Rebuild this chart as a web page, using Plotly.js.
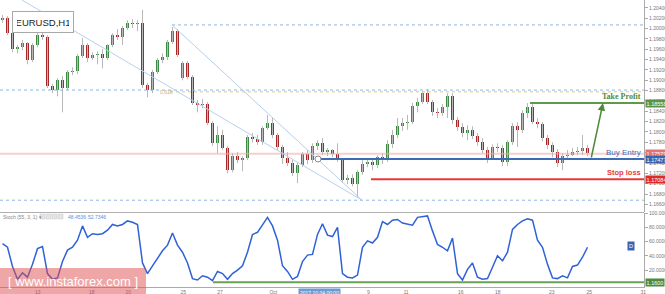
<!DOCTYPE html>
<html>
<head>
<meta charset="utf-8">
<script src="https://cdn.plot.ly/plotly-3.0.1.min.js"></script>
<style>
html,body{margin:0;padding:0;background:#fff;}
#chart{width:665px;height:294px;}
</style>
</head>
<body>
<div id="chart"></div>
<script>
// ---- data (EURUSD H1) ----
const candleOpen = [
1.2016,1.2020,1.1991,1.1960,1.1964,1.1972,1.1939,1.1968,1.1987,1.1983,
1.1889,1.1881,1.1900,1.1885,1.1916,1.1918,1.1947,1.1968,1.1943,1.1949,
1.1951,1.1943,1.1968,1.1987,1.1983,1.2001,1.2011,1.2009,1.2011,1.1891,
1.1881,1.1916,1.1939,1.1945,1.1974,1.1995,1.1904,1.1933,1.1906,1.1856,
1.1852,1.1854,1.1817,1.1778,1.1794,1.1769,1.1726,1.1753,1.1746,1.1749,
1.1790,1.1786,1.1780,1.1807,1.1817,1.1794,1.1771,1.1749,1.1740,1.1720,
1.1736,1.1757,1.1746,1.1773,1.1778,1.1761,1.1765,1.1757,1.1746,1.1707,
1.1711,1.1699,1.1722,1.1738,1.1742,1.1736,1.1751,1.1746,1.1776,1.1794,
1.1811,1.1817,1.1819,1.1850,1.1858,1.1875,1.1858,1.1838,1.1836,1.1848,
1.1869,1.1823,1.1809,1.1798,1.1804,1.1792,1.1780,1.1765,1.1749,1.1771,
1.1769,1.1742,1.1780,1.1811,1.1804,1.1836,1.1848,1.1819,1.1815,1.1788,
1.1775,1.1761,1.1740,1.1753,1.1755,1.1761,1.1763,1.1769];
const candleHigh = [
1.2026,1.2024,1.1995,1.1968,1.1978,1.1974,1.1972,1.1993,1.1995,1.1987,
1.1893,1.1904,1.1908,1.1920,1.1925,1.1951,1.1982,1.1972,1.1954,1.1956,
1.1960,1.1970,1.1991,1.1999,1.2005,1.2016,1.2018,1.2016,1.2036,1.1895,
1.1920,1.1943,1.1952,1.1978,1.2003,1.1999,1.1937,1.1937,1.1910,1.1862,
1.1864,1.1858,1.1821,1.1811,1.1804,1.1773,1.1759,1.1761,1.1753,1.1794,
1.1798,1.1794,1.1811,1.1833,1.1827,1.1798,1.1775,1.1761,1.1746,1.1740,
1.1761,1.1765,1.1778,1.1784,1.1788,1.1769,1.1767,1.1778,1.1749,1.1717,
1.1718,1.1726,1.1746,1.1749,1.1749,1.1755,1.1759,1.1784,1.1804,1.1827,
1.1827,1.1833,1.1856,1.1866,1.1879,1.1883,1.1862,1.1846,1.1854,1.1875,
1.1875,1.1829,1.1817,1.1813,1.1811,1.1798,1.1788,1.1771,1.1776,1.1778,
1.1775,1.1784,1.1817,1.1819,1.1842,1.1856,1.1856,1.1827,1.1819,1.1794,
1.1780,1.1767,1.1759,1.1765,1.1769,1.1771,1.1794,1.1775];
const candleLow = [
1.2011,1.1987,1.1954,1.1952,1.1958,1.1931,1.1935,1.1964,1.1978,1.1885,
1.1875,1.1869,1.1838,1.1881,1.1910,1.1912,1.1943,1.1935,1.1939,1.1931,
1.1923,1.1939,1.1964,1.1978,1.1968,1.1997,1.2001,1.1995,1.1885,1.1867,
1.1875,1.1912,1.1933,1.1939,1.1970,1.1945,1.1900,1.1902,1.1852,1.1838,
1.1846,1.1813,1.1773,1.1759,1.1765,1.1720,1.1722,1.1740,1.1724,1.1746,
1.1780,1.1775,1.1775,1.1804,1.1788,1.1765,1.1738,1.1734,1.1715,1.1701,
1.1732,1.1738,1.1740,1.1765,1.1755,1.1753,1.1751,1.1742,1.1701,1.1699,
1.1695,1.1674,1.1717,1.1732,1.1726,1.1730,1.1738,1.1742,1.1769,1.1788,
1.1802,1.1804,1.1815,1.1838,1.1854,1.1854,1.1831,1.1827,1.1831,1.1827,
1.1815,1.1802,1.1790,1.1784,1.1786,1.1773,1.1759,1.1740,1.1746,1.1761,
1.1734,1.1734,1.1775,1.1771,1.1798,1.1827,1.1815,1.1807,1.1782,1.1767,
1.1751,1.1732,1.1726,1.1746,1.1753,1.1755,1.1755,1.1753];
const candleClose = [
1.2020,1.1991,1.1960,1.1964,1.1972,1.1939,1.1968,1.1987,1.1983,1.1889,
1.1881,1.1900,1.1885,1.1916,1.1918,1.1947,1.1968,1.1943,1.1949,1.1951,
1.1943,1.1968,1.1987,1.1983,1.2001,1.2011,1.2009,1.2011,1.1891,1.1881,
1.1916,1.1939,1.1945,1.1974,1.1995,1.1949,1.1933,1.1906,1.1856,1.1852,
1.1854,1.1817,1.1778,1.1794,1.1769,1.1726,1.1753,1.1746,1.1749,1.1790,
1.1786,1.1780,1.1807,1.1817,1.1794,1.1771,1.1749,1.1740,1.1720,1.1736,
1.1757,1.1746,1.1773,1.1778,1.1761,1.1765,1.1757,1.1746,1.1707,1.1711,
1.1699,1.1722,1.1738,1.1742,1.1736,1.1751,1.1746,1.1776,1.1794,1.1811,
1.1817,1.1819,1.1850,1.1858,1.1875,1.1858,1.1838,1.1836,1.1848,1.1869,
1.1823,1.1809,1.1798,1.1804,1.1792,1.1780,1.1765,1.1749,1.1771,1.1769,
1.1742,1.1780,1.1811,1.1804,1.1836,1.1848,1.1819,1.1815,1.1788,1.1775,
1.1761,1.1740,1.1753,1.1755,1.1761,1.1763,1.1769,1.1759];
const stochValues = [
57,52,25,7,16,10,28,50,53,15,
7,9,32,48,52,62,82,66,71,70,
71,76,84,82,84,89,87,84,30,15,
26,37,47,55,72,55,45,30,8,6,
12,10,5,18,15,7,15,20,26,45,
70,73,84,94,82,62,26,18,7,11,
32,41,42,70,85,69,67,80,15,10,
9,13,52,61,58,66,88,84,90,91,
86,85,83,94,95,96,75,56,52,47,
65,15,6,21,30,10,7,8,24,40,
33,45,77,84,89,92,90,62,52,28,
9,8,12,9,25,27,38,52];

const dateTickPos  = [-0.16, 7.04, 17.84, 25.17, 36.17, 43.5, 54.17, 73.17, 80.7, 91.64, 99.04, 109.84, 117.36, 128.16];
const dateTickText = ['11','13','18','20','25','27','Oct','9','11','16','18','23','25','31'];
const priceTicks = [1.166,1.168,1.170,1.172,1.174,1.176,1.178,1.180,1.182,1.184,1.186,1.188,1.190,1.192,1.194,1.196,1.198,1.200,1.202,1.204];
const stochTicks = [20,40,60,80,100];

const takeProfit = 1.18558;
const buyEntry   = 1.17477;
const stopLoss   = 1.17084;
const lastPrice  = 1.17579;
const fibZero    = 1.1668;
const fibOne     = 1.2007;
const fib618     = 1.18776;
const level1188  = 1.1881;
const stochLevel = 2.8;
const stochK = '48.4536', stochD = '52.7346';

// ---- build ----
const idx = candleClose.map((_, i) => i);
const bodyBase = candleClose.map((c, i) => Math.min(c, candleOpen[i]));
const bodyH = candleClose.map((c, i) => Math.max(Math.abs(c - candleOpen[i]), 0.00008));
const bodyCol = candleClose.map((c, i) => c >= candleOpen[i] ? '#3f8a45' : '#a42a2a');

const traces = [
  { type:'ohlc', x:idx, open:candleOpen, high:candleHigh, low:candleLow, close:candleClose,
    tickwidth:0, increasing:{line:{color:'#b8b8b8', width:1}}, decreasing:{line:{color:'#b8b8b8', width:1}},
    xaxis:'x', yaxis:'y', hoverinfo:'skip', showlegend:false },
  { type:'bar', x:idx, base:bodyBase, y:bodyH, width:0.45, marker:{color:bodyCol, line:{width:0}},
    xaxis:'x', yaxis:'y', hoverinfo:'skip', showlegend:false },
  { type:'scatter', mode:'lines', x:idx, y:stochValues, line:{color:'#2f62d6', width:1.5},
    xaxis:'x', yaxis:'y2', hoverinfo:'skip', showlegend:false }
];

const W = 644, H = 287;
const px = v => v / W;
const py = v => 1 - v / H;

const shapes = [
  {type:'line', xref:'paper', x0:0, x1:1, yref:'y', y0:level1188, y1:level1188, line:{color:'#8fb6e6', width:1, dash:'dot'}},
  {type:'line', xref:'x', x0:33.9, x1:128.3, yref:'y', y0:fibOne, y1:fibOne, line:{color:'#8fb6e6', width:1, dash:'dot'}},
  {type:'line', xref:'paper', x0:0, x1:1, yref:'y', y0:fibZero, y1:fibZero, line:{color:'#8fb6e6', width:1, dash:'dot'}},
  {type:'line', xref:'x', x0:33.5, x1:128.3, yref:'y', y0:fib618, y1:fib618, line:{color:'#e6c870', width:1, dash:'dot'}},
  {type:'line', xref:'paper', x0:0, x1:1, yref:'y', y0:lastPrice, y1:lastPrice, line:{color:'rgba(238,170,170,0.55)', width:2}},
  {type:'line', xref:'x', yref:'y', x0:3.9, y0:1.2055, x1:71.9, y1:fibZero, line:{color:'#b7d0ec', width:1}},
  {type:'line', xref:'x', yref:'y', x0:33.9, y0:fibOne, x1:71.9, y1:fibZero, line:{color:'#b7d0ec', width:1}},
  {type:'line', xref:'x', x0:63.1, x1:128.3, yref:'y', y0:buyEntry, y1:buyEntry, line:{color:'#3d6cb6', width:2}},
  {type:'line', xref:'x', x0:73.7, x1:128.3, yref:'y', y0:stopLoss, y1:stopLoss, line:{color:'#e8383a', width:2}},
  {type:'line', xref:'x', x0:105.5, x1:128.3, yref:'y', y0:takeProfit, y1:takeProfit, line:{color:'#5f9a4c', width:2}},
  {type:'line', xref:'x', x0:42.1, x1:128.3, yref:'y2', y0:stochLevel, y1:stochLevel, line:{color:'#6aa058', width:2}},
  {type:'line', xref:'paper', x0:0, x1:1, yref:'paper', y0:py(212.5), y1:py(212.5), line:{color:'#b0b0b0', width:1}},
  {type:'circle', xref:'x', yref:'y', xsizemode:'pixel', ysizemode:'pixel', xanchor:63.1, yanchor:buyEntry,
   x0:-3, x1:3, y0:-3, y1:3, line:{color:'#888', width:1}, fillcolor:'#fff'},
  {type:'rect', xref:'paper', yref:'paper', x0:px(40), x1:px(45), y0:py(219), y1:py(214), line:{color:'#c8c8c8', width:0.5}, fillcolor:'#e4e4e4'},
  {type:'rect', xref:'paper', yref:'paper', x0:px(46), x1:px(51), y0:py(219), y1:py(214), line:{color:'#c8c8c8', width:0.5}, fillcolor:'#e4e4e4'},
  {type:'rect', xref:'paper', yref:'paper', x0:px(52), x1:px(57), y0:py(219), y1:py(214), line:{color:'#c8c8c8', width:0.5}, fillcolor:'#e4e4e4'},
  {type:'rect', xref:'paper', yref:'paper', x0:px(58), x1:px(63), y0:py(219), y1:py(214), line:{color:'#c8c8c8', width:0.5}, fillcolor:'#e4e4e4'},
  {type:'rect', xref:'paper', yref:'paper', x0:0, x1:px(146), y0:py(294), y1:py(268), line:{width:0}, fillcolor:'rgba(222,78,78,0.5)'}
];

const tag = (y, yref, text, bg) => ({xref:'paper', x:1, xanchor:'left', xshift:1, yref:yref, y:y, yanchor:'middle',
  text:text, showarrow:false, bgcolor:bg, borderpad:0.6, font:{family:'Liberation Sans, Arial', size:5.5, color:'#fff'}});

const annotations = [
  {xref:'paper', yref:'paper', x:px(43), xanchor:'center', y:py(22), yanchor:'middle', text:'EURUSD,H1', showarrow:false, width:52, height:12,
   bgcolor:'#fff', bordercolor:'#a8a8a8', borderwidth:1, borderpad:4, font:{family:'Liberation Sans, Arial', size:9.5, color:'#222'}},
  {xref:'x', yref:'y', x:31.1, y:fib618, xanchor:'left', text:'0.618', showarrow:false, font:{family:'Liberation Sans, Arial', size:5, color:'#d4b050'}},
  {xref:'x', yref:'y', x:120.1, y:takeProfit, axref:'x', ayref:'y', ax:117.7, ay:buyEntry, text:'', showarrow:true,
   arrowhead:2, arrowsize:1, arrowwidth:1.5, arrowcolor:'#4f8a3c'},
  {xref:'paper', yref:'y', x:0.999, xanchor:'right', y:takeProfit, yanchor:'bottom', text:'<b>Take Profit</b>', showarrow:false,
   font:{family:'Liberation Serif, Times New Roman', size:8, color:'#4f8a3c'}},
  {xref:'paper', yref:'y', x:0.999, xanchor:'right', y:buyEntry, yanchor:'bottom', text:'Buy Entry', showarrow:false,
   font:{family:'Liberation Sans, Arial', size:8, color:'#3d6cb6'}},
  {xref:'paper', yref:'y', x:0.999, xanchor:'right', y:stopLoss, yanchor:'bottom', text:'<b>Stop loss</b>', showarrow:false,
   font:{family:'Liberation Sans, Arial', size:7.5, color:'#e8383a'}},
  tag(takeProfit, 'y', '1.18558', '#5a9448'),
  tag(lastPrice, 'y', '1.17579', '#e07474'),
  tag(buyEntry, 'y', '1.17477', '#3a64b0'),
  tag(stopLoss, 'y', '1.17084', '#e02a2a'),
  tag(stochLevel, 'y2', '1.1600', '#4f8a3c'),
  {xref:'paper', yref:'y2', x:px(631), xanchor:'center', y:54, text:'D', showarrow:false, bgcolor:'#3a64b0', borderpad:1,
   font:{family:'Liberation Sans, Arial', size:5.5, color:'#fff'}},
  {xref:'paper', yref:'paper', x:px(1), y:py(216.5), xanchor:'left', yanchor:'middle', text:'Stoch (55, 3, 1) ▾', showarrow:false,
   font:{family:'Liberation Sans, Arial', size:5, color:'#888'}},
  {xref:'paper', yref:'paper', x:px(66), y:py(216.5), xanchor:'left', yanchor:'middle', text:stochK, showarrow:false,
   font:{family:'Liberation Sans, Arial', size:5, color:'#5b8ee0'}},
  {xref:'paper', yref:'paper', x:px(86), y:py(216.5), xanchor:'left', yanchor:'middle', text:stochD, showarrow:false,
   font:{family:'Liberation Sans, Arial', size:5, color:'#5b8ee0'}},
  {xref:'x', yref:'paper', x:63.3, xanchor:'center', y:0, yanchor:'top', yshift:-0.5, text:'2017.10.04 00:00', showarrow:false,
   bgcolor:'#6d9bd1', borderpad:1, font:{family:'Liberation Sans, Arial', size:5, color:'#fff'}},
  {xref:'paper', yref:'paper', x:px(73), xanchor:'center', y:py(281), yanchor:'middle', text:'[ www.instaforex.com ]', showarrow:false,
   font:{family:'Liberation Sans, Arial', size:13, color:'#fff'}}
];

const axisFont = {family:'Liberation Sans, Arial', size:5, color:'#777'};
const layout = {
  width:665, height:294,
  margin:{l:0, r:21, t:0, b:7, pad:0},
  paper_bgcolor:'#fff', plot_bgcolor:'#fff',
  showlegend:false, bargap:0,
  xaxis:{range:[-0.5, 128.3], anchor:'y2', showgrid:false, zeroline:false, showline:true, linecolor:'#aaa', linewidth:1,
    tickvals:dateTickPos, ticktext:dateTickText, ticks:'', tickfont:axisFont, rangeslider:{visible:false}, fixedrange:true},
  yaxis:{domain:[1-212/287, 1], range:[1.16452, 1.20552], side:'right', showgrid:false, zeroline:false,
    showline:true, linecolor:'#aaa', linewidth:1, ticks:'outside', ticklen:3, tickcolor:'#aaa',
    tickvals:priceTicks, tickformat:'.5f', tickfont:axisFont, fixedrange:true},
  yaxis2:{domain:[0, 1-213/287], range:[-3.8, 100.1], side:'right', anchor:'x', showgrid:false, zeroline:false,
    showline:true, linecolor:'#aaa', linewidth:1, ticks:'outside', ticklen:3, tickcolor:'#aaa',
    tickvals:stochTicks, tickformat:'.4f', tickfont:axisFont, fixedrange:true},
  shapes:shapes,
  annotations:annotations
};

Plotly.newPlot('chart', traces, layout, {staticPlot:true, displayModeBar:false});
</script>
</body>
</html>
